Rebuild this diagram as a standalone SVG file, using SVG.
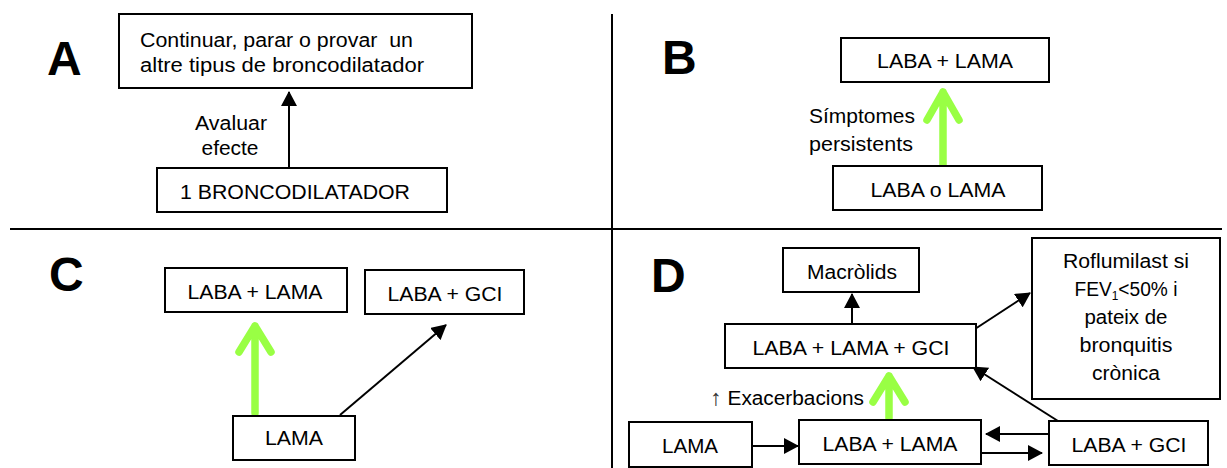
<svg xmlns="http://www.w3.org/2000/svg" width="1227" height="468" viewBox="0 0 1227 468">
<style>
.box{fill:#fff;stroke:#000;stroke-width:2}
.t{font-family:"Liberation Sans",Arial,sans-serif;font-size:19.5px;fill:#000}
.m{text-anchor:middle}
.lbl{font-family:"Liberation Sans",Arial,sans-serif;font-size:48px;font-weight:bold;fill:#000}
.div{stroke:#000;stroke-width:2;fill:none}
.blk{stroke:#000;stroke-width:2;fill:none;marker-end:url(#ah)}
.grn{stroke:#99FF44;stroke-width:7.5;fill:none;stroke-linecap:round;stroke-linejoin:round}
</style>
<defs>
<marker id="ah" markerUnits="userSpaceOnUse" markerWidth="15" markerHeight="16" refX="14" refY="8" orient="auto">
<path d="M0,0 L15,8 L0,16 z" fill="#000"/>
</marker>
</defs>
<rect width="1227" height="468" fill="#fff"/>
<g id="dividers">
<line class="div" x1="10" y1="229" x2="1222" y2="229"/>
<line class="div" x1="612" y1="14" x2="612" y2="468"/>
</g>
<g id="labels">
<text class="lbl" x="47" y="75">A</text>
<text class="lbl" x="662" y="74">B</text>
<text class="lbl" x="49" y="291">C</text>
<text class="lbl" x="651" y="292">D</text>
</g>
<g id="connectors">
<line class="blk" x1="289" y1="167" x2="289" y2="92"/>
<path class="grn" d="M943,165 V92 M927,120 L943,92 L959,120"/>
<path class="grn" d="M255,413 V326 M239,352 L255,326 L271,352"/>
<line class="blk" x1="340" y1="415" x2="446" y2="325"/>
<line class="blk" x1="852" y1="324" x2="852" y2="294"/>
<path class="grn" d="M889,418 V376 M873,402 L889,376 L905,402"/>
<line class="blk" x1="975" y1="329" x2="1030" y2="293"/>
<line class="blk" x1="1058" y1="421" x2="973" y2="367"/>
<line class="blk" x1="752" y1="446" x2="798" y2="446"/>
<line class="blk" x1="1049" y1="434" x2="986" y2="434"/>
<line class="blk" x1="981" y1="453" x2="1042" y2="453"/>
</g>
<g id="A-top">
<rect class="box" x="119" y="14" width="353" height="74"/>
<text class="t" x="140" y="47" textLength="273" lengthAdjust="spacingAndGlyphs" style="white-space:pre">Continuar, parar o provar  un</text>
<text class="t" x="140" y="72" textLength="284" lengthAdjust="spacingAndGlyphs">altre tipus de broncodilatador</text>
</g>
<g id="A-label">
<text class="t m" x="231" y="130" textLength="72" lengthAdjust="spacingAndGlyphs">Avaluar</text>
<text class="t m" x="230" y="155" textLength="57" lengthAdjust="spacingAndGlyphs">efecte</text>
</g>
<g id="A-bottom">
<rect class="box" x="157" y="168" width="290" height="44"/>
<text class="t" x="180" y="199" textLength="230" lengthAdjust="spacingAndGlyphs">1 BRONCODILATADOR</text>
</g>
<g id="B-top">
<rect class="box" x="841" y="38" width="208" height="44"/>
<text class="t m" x="945" y="68" textLength="136" lengthAdjust="spacingAndGlyphs">LABA + LAMA</text>
</g>
<g id="B-label">
<text class="t" x="809" y="123" textLength="106" lengthAdjust="spacingAndGlyphs">Símptomes</text>
<text class="t" x="809" y="151" textLength="104" lengthAdjust="spacingAndGlyphs">persistents</text>
</g>
<g id="B-bottom">
<rect class="box" x="833" y="166" width="209" height="44"/>
<text class="t m" x="938" y="197" textLength="135" lengthAdjust="spacingAndGlyphs">LABA o LAMA</text>
</g>
<g id="C-labalama">
<rect class="box" x="165" y="268" width="182" height="44"/>
<text class="t m" x="255" y="299" textLength="135" lengthAdjust="spacingAndGlyphs">LABA + LAMA</text>
</g>
<g id="C-labagci">
<rect class="box" x="365" y="270" width="159" height="44"/>
<text class="t m" x="445" y="301" textLength="115" lengthAdjust="spacingAndGlyphs">LABA + GCI</text>
</g>
<g id="C-lama">
<rect class="box" x="233" y="416" width="122" height="44"/>
<text class="t m" x="294" y="445" textLength="58" lengthAdjust="spacingAndGlyphs">LAMA</text>
</g>
<g id="D-macrolids">
<rect class="box" x="783" y="248" width="136" height="44"/>
<text class="t m" x="852" y="279" textLength="90" lengthAdjust="spacingAndGlyphs">Macròlids</text>
</g>
<g id="D-triple">
<rect class="box" x="725" y="324" width="251" height="44"/>
<text class="t m" x="851" y="355" textLength="197" lengthAdjust="spacingAndGlyphs">LABA + LAMA + GCI</text>
</g>
<g id="D-roflumilast">
<rect class="box" x="1032" y="238" width="188" height="161"/>
<text class="t m" x="1126" y="268" textLength="126" lengthAdjust="spacingAndGlyphs">Roflumilast si</text>
<text class="t m" x="1126" y="296" textLength="103" lengthAdjust="spacingAndGlyphs">FEV<tspan font-size="12" dy="4">1</tspan><tspan dy="-4">&lt;50% i</tspan></text>
<text class="t m" x="1126" y="324" textLength="83" lengthAdjust="spacingAndGlyphs">pateix de</text>
<text class="t m" x="1126" y="352" textLength="93" lengthAdjust="spacingAndGlyphs">bronquitis</text>
<text class="t m" x="1126" y="380" textLength="68" lengthAdjust="spacingAndGlyphs">crònica</text>
</g>
<g id="D-label">
<text class="t" x="710" y="405" textLength="154" lengthAdjust="spacingAndGlyphs"><tspan fill="#333" font-size="22">↑</tspan> Exacerbacions</text>
</g>
<g id="D-lama">
<rect class="box" x="629" y="422" width="123" height="45"/>
<text class="t m" x="690" y="453" textLength="56" lengthAdjust="spacingAndGlyphs">LAMA</text>
</g>
<g id="D-labalama">
<rect class="box" x="799" y="420" width="182" height="44"/>
<text class="t m" x="890" y="451" textLength="135" lengthAdjust="spacingAndGlyphs">LABA + LAMA</text>
</g>
<g id="D-labagci">
<rect class="box" x="1049" y="421" width="159" height="44"/>
<text class="t m" x="1129" y="452" textLength="115" lengthAdjust="spacingAndGlyphs">LABA + GCI</text>
</g>
</svg>
